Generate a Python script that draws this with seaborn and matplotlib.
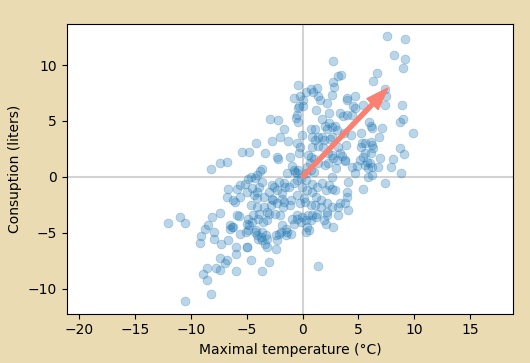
import numpy as np
import pandas as pd
import seaborn as sns
import matplotlib.pyplot as plt

# points, grouped by consumption band: (max temp, consumption)
band_high = [(7.6, 12.6), (9.2, 12.3), (8.2, 10.9), (9.2, 10.5), (9.0, 9.75), (2.7, 10.4),
             (6.7, 9.3), (6.35, 8.55), (3.2, 9.0), (3.4, 9.15), (2.7, 8.5), (-0.45, 8.2),
             (2.8, 8.0), (7.4, 7.85), (0.75, 7.9), (1.3, 7.95), (0.27, 7.6), (0.9, 7.55),
             (-0.75, 7.1), (-0.24, 7.2), (2.6, 7.3), (3.95, 7.1), (4.0, 6.9), (4.7, 7.2),
             (1.4, 7.2), (1.55, 6.9), (7.47, 7.2), (0.03, 6.9), (-0.3, 6.3), (-0.4, 6.15),
             (0.05, 6.3), (2.2, 6.6), (4.55, 6.3), (4.7, 6.2), (5.4, 6.4), (7.4, 6.4),
             (8.9, 6.4), (1.17, 6.0)]

band_upper = [(2.36, 5.75), (3.34, 5.7), (3.6, 5.45), (3.95, 5.55), (4.4, 5.55), (-0.48, 5.55),
              (-0.6, 5.25), (-0.45, 4.95), (-2.93, 5.16), (-2.19, 5.1), (1.76, 5.16), (2.36, 4.8),
              (2.0, 4.56), (2.9, 4.56), (2.15, 4.27), (2.6, 4.5), (0.74, 4.27), (1.1, 4.27),
              (-1.65, 4.32), (5.97, 4.95), (6.12, 4.56), (6.18, 4.35), (7.08, 4.35), (8.72, 4.95),
              (9.02, 5.16), (3.05, 4.2), (3.68, 3.9), (4.33, 3.78), (5.2, 3.9), (9.92, 3.9),
              (6.87, 3.6), (-2.73, 3.25), (-2.04, 3.55), (-1.35, 3.25), (-0.04, 3.73), (0.8, 3.55),
              (1.4, 3.6), (1.76, 3.6), (1.1, 3.3), (1.94, 3.3), (2.45, 3.37), (-0.51, 3.0),
              (-0.24, 2.7), (0.8, 2.7), (1.4, 2.77), (1.85, 2.7), (3.19, 2.7), (3.88, 2.84),
              (5.2, 2.7), (5.58, 3.07), (6.12, 3.16), (6.24, 2.86), (-4.21, 3.0), (-5.44, 2.26),
              (-4.84, 2.2), (-3.35, 2.1), (-0.3, 2.12), (8.72, 2.57), (9.1, 2.06), (2.3, 2.12),
              (3.34, 2.12), (5.58, 2.12), (6.12, 2.12), (2.6, 3.6), (5.28, 3.0), (6.33, 2.57)]

band_mid = [(0.5, 1.97), (2.6, 1.97), (3.5, 1.88), (-2.33, 1.82), (-2.24, 1.58), (-1.14, 1.82),
            (0.74, 1.82), (1.04, 1.58), (3.79, 1.52), (6.93, 1.67), (8.12, 1.64), (7.92, 0.92),
            (-0.99, 0.98), (-0.39, 0.63), (-0.69, 0.47), (0.65, 1.22), (1.4, 1.22), (2.0, 1.1),
            (2.3, 1.22), (2.99, 0.78), (3.79, 1.4), (4.39, 0.92), (4.84, 0.98), (5.58, 1.05),
            (5.88, 0.78), (6.18, 0.92), (6.78, 0.92), (8.78, 0.38), (-8.25, 0.69), (-7.44, 1.22),
            (-6.81, 1.31), (-3.83, 0.56), (-3.68, 0.69), (0.41, 0.92), (0.72, 0.63), (1.01, 0.47),
            (0.27, 0.33), (-0.48, 0.33), (-0.78, 0.63), (-1.38, 0.33), (-4.07, 0.18), (2.74, 1.67),
            (3.05, 1.52), (4.69, 0.33), (5.14, 1.52), (5.43, 1.82), (5.73, 1.37), (6.03, 1.22),
            (6.18, 0.18), (2.6, 0.03), (5.88, 0.03), (-4.66, 0.03)]

band_low = [(-4.9, -0.2), (-4.3, -0.1), (-3.62, -0.42), (-3.92, -0.87), (-4.52, -1.01),
            (-4.97, -1.31), (-4.37, -1.61), (-4.07, -1.9), (-3.47, -1.76), (-3.02, -1.31),
            (-2.57, -0.87), (-2.12, -0.42), (-1.68, -0.57), (-2.28, -1.16), (-1.83, -1.46),
            (-1.23, -0.87), (-0.78, -0.57), (-0.48, -0.27), (-0.18, -0.12), (0.27, -0.27),
            (-0.04, -0.87), (0.41, -1.16), (0.86, -1.31), (1.31, -0.87), (1.76, -0.57),
            (2.06, -1.16), (2.36, -0.72), (1.17, -1.76), (0.12, -1.9), (-0.48, -1.61),
            (-6.67, -1.05), (-5.86, -1.1), (-5.62, -0.74), (-5.17, -0.6), (-6.73, -1.79),
            (-5.62, -1.79), (-4.13, -1.34), (2.6, -1.05), (2.9, -1.19), (4.09, -0.45),
            (5.43, -1.1), (7.38, -0.54), (3.94, -1.79), (3.94, -1.31), (0.8, -0.6),
            (-1.6, -0.9), (-2.78, -1.94), (-1.89, -1.94), (-2.78, -0.74)]

band_lower = [(-1.08, -2.06), (-1.68, -2.21), (-2.28, -2.35), (-2.87, -2.5), (-3.47, -2.65),
              (-4.07, -2.65), (-4.66, -2.5), (0.72, -2.5), (1.61, -2.65), (2.21, -2.35),
              (1.61, -2.06), (-6.22, -2.08), (-6.07, -2.24), (-8.16, -3.55), (-7.44, -3.2),
              (-5.86, -3.43), (-5.68, -3.52), (-11.0, -3.55), (-4.43, -3.43), (-3.98, -3.73),
              (-4.88, -3.73), (-3.92, -3.28), (-3.17, -3.88), (-3.02, -3.28), (-0.93, -3.73),
              (-0.48, -3.73), (-0.04, -3.58), (0.27, -3.88), (0.72, -3.88), (0.86, -3.43),
              (1.17, -3.58), (1.31, -3.28), (1.91, -3.88), (2.21, -3.43), (-2.64, -2.08),
              (-1.74, -2.68), (-1.14, -2.53), (-0.24, -2.38), (0.21, -2.24), (1.1, -2.53),
              (2.6, -2.68), (3.19, -2.68), (3.79, -2.38), (4.09, -2.98), (-3.23, -3.13),
              (-2.48, -3.28), (-2.04, -3.43), (-0.54, -3.43), (0.5, -3.43), (3.19, -3.43),
              (2.15, -3.13), (3.34, -2.35)]

band_bottom = [(-12.1, -4.09), (-10.5, -4.11), (-8.46, -4.32), (-8.76, -4.62), (-9.12, -5.28),
               (-9.21, -5.9), (-7.93, -4.92), (-7.93, -5.52), (-7.35, -6.02), (-6.67, -5.66),
               (-6.52, -4.32), (-6.22, -4.47), (-6.52, -4.62), (-6.35, -4.5), (-5.62, -5.07),
               (-5.02, -4.18), (-4.57, -4.03), (-4.79, -4.27), (-4.88, -4.77), (-5.08, -4.92),
               (-4.28, -4.92), (-4.13, -5.22), (-3.68, -4.92), (-3.98, -5.52), (-3.53, -4.03),
               (-3.38, -5.97), (-6.0, -6.29), (-6.0, -6.86), (-5.02, -6.26), (-4.97, -6.3),
               (-7.41, -7.22), (-6.81, -7.45), (-6.96, -7.67), (-7.77, -8.14), (-7.41, -8.35),
               (-8.6, -8.14), (-8.91, -8.65), (-8.6, -9.19), (-4.63, -7.42), (-6.0, -8.4),
               (-3.68, -8.4), (-8.22, -10.47), (-10.5, -11.06), (-4.21, -4.77), (-3.77, -5.37),
               (-3.62, -5.66), (-3.32, -5.22), (-3.17, -5.52), (-3.17, -6.26), (-2.42, -5.22),
               (-2.12, -5.07), (-2.28, -5.66), (-2.42, -6.41), (-1.83, -4.32), (-1.52, -4.62),
               (-1.38, -4.92), (-1.08, -5.07), (-1.52, -5.22), (-1.97, -4.92), (-0.78, -4.18),
               (-0.18, -4.03), (0.41, -4.47), (0.56, -4.77), (0.27, -4.92), (2.06, -4.18),
               (-3.02, -7.6), (1.37, -7.96), (2.74, -4.47)]

# arrow end (direction of the fitted relation)
arrow_end = (7.65, 7.95)

points = band_high + band_upper + band_mid + band_low + band_lower + band_bottom
df = pd.DataFrame(points, columns=["temp", "consumption"])

fig = plt.figure(figsize=(5.3, 3.63), dpi=100, facecolor="#ebdbb3")
ax = fig.add_axes([0.126, 0.136, 0.8425, 0.799])

sns.scatterplot(data=df, x="temp", y="consumption", ax=ax, color="C0",
                alpha=0.3, s=40, edgecolor="face", linewidth=0.6)

ax.axhline(0, color="lightgray", lw=1.5, zorder=0.5)
ax.axvline(0, color="lightgray", lw=1.5, zorder=0.5)
ax.arrow(0, 0, arrow_end[0], arrow_end[1], width=0.36, head_width=1.4,
         head_length=2.0, length_includes_head=True, color="salmon", zorder=3)

ax.set_xlim(-21.13, 18.88)
ax.set_ylim(-12.23, 13.71)
ax.set_xticks([-20, -15, -10, -5, 0, 5, 10, 15])
ax.set_yticks([-10, -5, 0, 5, 10])
ax.set_xlabel("Maximal temperature (°C)")
ax.set_ylabel("Consuption (liters)")

fig.savefig("out.png", dpi=100, facecolor=fig.get_facecolor())
